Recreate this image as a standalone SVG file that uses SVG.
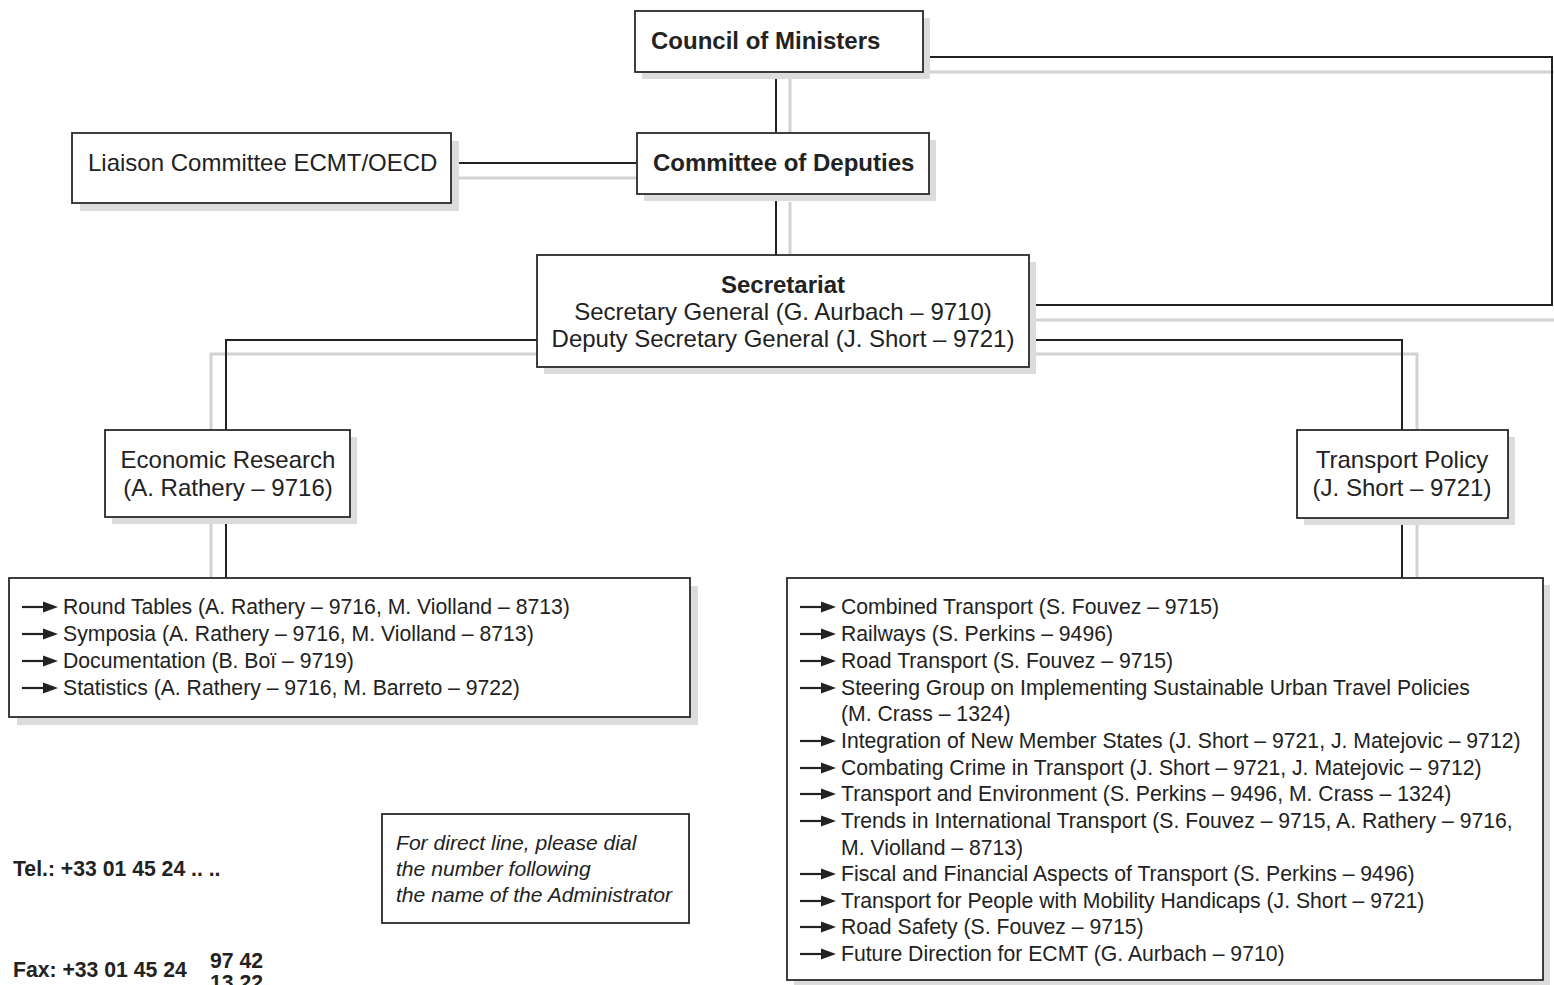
<svg xmlns="http://www.w3.org/2000/svg" width="1554" height="985" viewBox="0 0 1554 985">
<style>
.box{fill:#fff;stroke:#2a2a2a;stroke-width:1.8}
.sh{fill:#dcdcdc;stroke:none}
.ln{fill:none;stroke:#222;stroke-width:2}
.gl{fill:none;stroke:#d2d2d2;stroke-width:3}
text{font-family:"Liberation Sans",Arial,sans-serif;fill:#222}
.big{font-size:24px}
.bold{font-weight:bold}
.li{font-size:21.2px}
.it{font-size:21.1px;font-style:italic}
.ct{text-anchor:middle}
</style>
<defs>
<g id="arr"><path d="M0,0 H24" stroke="#222" stroke-width="2.2"/><path d="M21,-5.5 L36,0 L21,5.5 Z" fill="#222"/></g>
</defs>
<rect width="1554" height="985" fill="#fff"/>
<g id="connectors">
<path class="gl" d="M790,79 V133"/>
<path class="gl" d="M459,178 H637"/>
<path class="gl" d="M930,72 H1554"/>
<path class="gl" d="M1036,320 H1554"/>
<path class="gl" d="M790,202 V255"/>
<path class="gl" d="M537,354 H211 V430"/>
<path class="gl" d="M1036,354 H1417 V430"/>
<path class="gl" d="M211,524 V578"/>
<path class="gl" d="M1417,525 V578"/>
<path class="ln" d="M776,72 V133"/>
<path class="ln" d="M451,163 H637"/>
<path class="ln" d="M923,57 H1552 V305 H1029"/>
<path class="ln" d="M776,194 V255"/>
<path class="ln" d="M537,340 H226 V430"/>
<path class="ln" d="M1029,340 H1402 V430"/>
<path class="ln" d="M226,517 V578"/>
<path class="ln" d="M1402,518 V578"/>
</g>
<g id="council">
<rect class="sh" x="642" y="18" width="288" height="61"/>
<rect class="box" x="635" y="11" width="288" height="61"/>
<text class="big bold" x="651" y="49">Council of Ministers</text>
</g>
<g id="deputies">
<rect class="sh" x="644" y="140" width="292" height="61"/>
<rect class="box" x="637" y="133" width="292" height="61"/>
<text class="big bold" x="653" y="171">Committee of Deputies</text>
</g>
<g id="liaison">
<rect class="sh" x="80" y="141" width="379" height="70"/>
<rect class="box" x="72" y="133" width="379" height="70"/>
<text class="big" x="88" y="171">Liaison Committee ECMT/OECD</text>
</g>
<g id="secretariat">
<rect class="sh" x="544" y="262" width="492" height="112"/>
<rect class="box" x="537" y="255" width="492" height="112"/>
<text class="big bold ct" x="783" y="293">Secretariat</text>
<text class="big ct" x="783" y="320">Secretary General (G. Aurbach – 9710)</text>
<text class="big ct" x="783" y="347">Deputy Secretary General (J. Short – 9721)</text>
</g>
<g id="econ">
<rect class="sh" x="112" y="437" width="245" height="87"/>
<rect class="box" x="105" y="430" width="245" height="87"/>
<text class="big ct" x="228" y="468">Economic Research</text>
<text class="big ct" x="228" y="496">(A. Rathery – 9716)</text>
</g>
<g id="transport">
<rect class="sh" x="1304" y="437" width="211" height="88"/>
<rect class="box" x="1297" y="430" width="211" height="88"/>
<text class="big ct" x="1402" y="468">Transport Policy</text>
<text class="big ct" x="1402" y="496">(J. Short – 9721)</text>
</g>
<g id="econ-list">
<rect class="sh" x="17" y="586" width="681" height="139"/>
<rect class="box" x="9" y="578" width="681" height="139"/>
<use href="#arr" x="22" y="607"/><text class="li" x="63" y="614">Round Tables (A. Rathery – 9716, M. Violland – 8713)</text>
<use href="#arr" x="22" y="634"/><text class="li" x="63" y="641">Symposia (A. Rathery – 9716, M. Violland – 8713)</text>
<use href="#arr" x="22" y="661"/><text class="li" x="63" y="668">Documentation (B. Boï – 9719)</text>
<use href="#arr" x="22" y="688"/><text class="li" x="63" y="695">Statistics (A. Rathery – 9716, M. Barreto – 9722)</text>
</g>
<g id="transport-list">
<rect class="sh" x="794" y="585" width="756" height="402"/>
<rect class="box" x="787" y="578" width="756" height="402"/>
<use href="#arr" x="800" y="607"/><text class="li" x="841" y="614">Combined Transport (S. Fouvez – 9715)</text>
<use href="#arr" x="800" y="634"/><text class="li" x="841" y="641">Railways (S. Perkins – 9496)</text>
<use href="#arr" x="800" y="661"/><text class="li" x="841" y="668">Road Transport (S. Fouvez – 9715)</text>
<use href="#arr" x="800" y="688"/><text class="li" x="841" y="695">Steering Group on Implementing Sustainable Urban Travel Policies</text>
<text class="li" x="841" y="721">(M. Crass – 1324)</text>
<use href="#arr" x="800" y="741"/><text class="li" x="841" y="748">Integration of New Member States (J. Short – 9721, J. Matejovic – 9712)</text>
<use href="#arr" x="800" y="768"/><text class="li" x="841" y="775">Combating Crime in Transport (J. Short – 9721, J. Matejovic – 9712)</text>
<use href="#arr" x="800" y="794"/><text class="li" x="841" y="801">Transport and Environment (S. Perkins – 9496, M. Crass – 1324)</text>
<use href="#arr" x="800" y="821"/><text class="li" x="841" y="828">Trends in International Transport (S. Fouvez – 9715, A. Rathery – 9716,</text>
<text class="li" x="841" y="855">M. Violland – 8713)</text>
<use href="#arr" x="800" y="874"/><text class="li" x="841" y="881">Fiscal and Financial Aspects of Transport (S. Perkins – 9496)</text>
<use href="#arr" x="800" y="901"/><text class="li" x="841" y="908">Transport for People with Mobility Handicaps (J. Short – 9721)</text>
<use href="#arr" x="800" y="927"/><text class="li" x="841" y="934">Road Safety (S. Fouvez – 9715)</text>
<use href="#arr" x="800" y="954"/><text class="li" x="841" y="961">Future Direction for ECMT (G. Aurbach – 9710)</text>
</g>
<g id="note">
<rect class="box" x="382" y="814" width="307" height="109"/>
<text class="it" x="396" y="850">For direct line, please dial</text>
<text class="it" x="396" y="876">the number following</text>
<text class="it" x="396" y="902">the name of the Administrator</text>
</g>
<g id="contact">
<text class="li bold" x="13" y="876">Tel.: +33 01 45 24 .. ..</text>
<text class="li bold" x="13" y="977">Fax: +33 01 45 24</text>
<text class="li bold" x="210" y="968">97 42</text>
<text class="li bold" x="210" y="990">13 22</text>
</g>
</svg>
